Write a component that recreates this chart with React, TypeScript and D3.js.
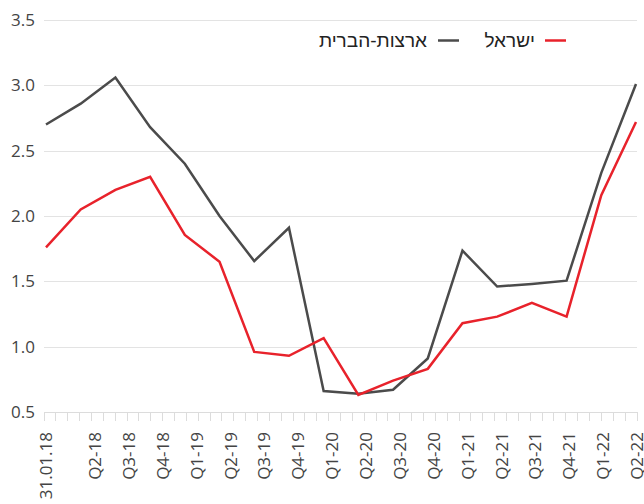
import { useEffect, useRef } from 'react';
import * as d3 from 'd3';

const categories = [
  '31.01.18', 'Q2-18', 'Q3-18', 'Q4-18', 'Q1-19', 'Q2-19', 'Q3-19', 'Q4-19', 'Q1-20',
  'Q2-20', 'Q3-20', 'Q4-20', 'Q1-21', 'Q2-21', 'Q3-21', 'Q4-21', 'Q1-22', 'Q2-22',
];
const usValues = [
  2.70, 2.86, 3.06, 2.68, 2.40, 2.00, 1.655, 1.91, 0.66, 0.64, 0.67, 0.91, 1.735, 1.46,
  1.48, 1.505, 2.33, 3.01,
];
const israelValues = [
  1.76, 2.05, 2.20, 2.30, 1.855, 1.65, 0.96, 0.93, 1.065, 0.63, 0.74, 0.83, 1.18, 1.23,
  1.335, 1.23, 2.16, 2.72,
];
const yTicks = [0.5, 1.0, 1.5, 2.0, 2.5, 3.0, 3.5];
const minorTickCount = 51;

const W = 644;
const H = 504;
const FONT = '"Open Sans", "Noto Sans", sans-serif';
const HEB_FONT = '"Liberation Sans", Arial, sans-serif';
const RED = '#e8222b';
const GRAY = '#4b4b4b';

export default function App() {
  const svgRef = useRef<SVGSVGElement>(null);

  useEffect(() => {
    if (!svgRef.current) return;
    const svg = d3.select(svgRef.current);
    svg.selectAll('*').remove();

    const left = 44;
    const right = 637;
    const y = d3.scaleLinear().domain([0.5, 3.5]).range([412, 20]);
    const x = d3.scalePoint<string>().domain(categories).range([46, 636]);
    // quarter labels sit on their own spacing, first label on the first point
    const xLabel = d3.scalePoint<string>().domain(categories.slice(1)).range([95, 637]);
    const xMinor = d3.scaleLinear().domain([0, minorTickCount - 1]).range([43.5, 636.5]);

    // gridlines
    svg.append('g')
      .selectAll('line')
      .data(yTicks.slice(1))
      .join('line')
      .attr('x1', left)
      .attr('x2', right)
      .attr('y1', d => Math.round(y(d)) + 0.5)
      .attr('y2', d => Math.round(y(d)) + 0.5)
      .attr('stroke', '#e3e3e3')
      .attr('stroke-width', 1);

    // y labels
    svg.append('g')
      .selectAll('text')
      .data(yTicks)
      .join('text')
      .attr('x', 35)
      .attr('y', d => y(d) + 6)
      .attr('text-anchor', 'end')
      .style('font-family', FONT)
      .style('font-size', '17px')
      .style('fill', '#444')
      .text(d => d.toFixed(1));

    // x axis baseline + minor ticks
    const axis = svg.append('g');
    axis.append('line')
      .attr('x1', left)
      .attr('x2', right)
      .attr('y1', 412.5)
      .attr('y2', 412.5)
      .attr('stroke', '#dcdcdc');
    axis.selectAll('line.minor')
      .data(d3.range(minorTickCount))
      .join('line')
      .attr('class', 'minor')
      .attr('x1', d => Math.round(xMinor(d)) + 0.5)
      .attr('x2', d => Math.round(xMinor(d)) + 0.5)
      .attr('y1', 412)
      .attr('y2', 421)
      .attr('stroke', '#dcdcdc');

    // x labels
    const labelX = (c: string, i: number) => (i === 0 ? x(c)! : xLabel(c)!);
    axis.selectAll('text')
      .data(categories)
      .join('text')
      .attr('transform', (c, i) => `translate(${labelX(c, i) + 6},432) rotate(-90)`)
      .attr('text-anchor', 'end')
      .style('font-family', FONT)
      .style('font-size', '17px')
      .style('fill', '#444')
      .text(c => c);

    // lines
    const line = d3.line<number>()
      .x((_, i) => x(categories[i])!)
      .y(d => y(d));

    svg.append('path')
      .datum(usValues)
      .attr('d', line)
      .attr('fill', 'none')
      .attr('stroke', GRAY)
      .attr('stroke-width', 2.5)
      .attr('stroke-linejoin', 'miter');

    svg.append('path')
      .datum(israelValues)
      .attr('d', line)
      .attr('fill', 'none')
      .attr('stroke', RED)
      .attr('stroke-width', 2.5)
      .attr('stroke-linejoin', 'miter');

    // legend
    const legend = svg.append('g');
    const items = [
      { label: 'ישראל', color: RED, lineX: 545, textX: 535 },
      { label: 'ארצות-הברית', color: GRAY, lineX: 438, textX: 427 },
    ];
    items.forEach(it => {
      legend.append('line')
        .attr('x1', it.lineX)
        .attr('x2', it.lineX + 21)
        .attr('y1', 40.5)
        .attr('y2', 40.5)
        .attr('stroke', it.color)
        .attr('stroke-width', 2.5);
      legend.append('text')
        .attr('x', it.textX)
        .attr('y', 47)
        .attr('text-anchor', 'end')
        .style('font-family', HEB_FONT)
        .style('font-size', '19px')
        .style('fill', '#222')
        .text(it.label);
    });
  }, []);

  return (
    <svg
      ref={svgRef}
      width={W}
      height={H}
      style={{ position: 'absolute', left: 0, top: 0, background: '#fff' }}
    />
  );
}
